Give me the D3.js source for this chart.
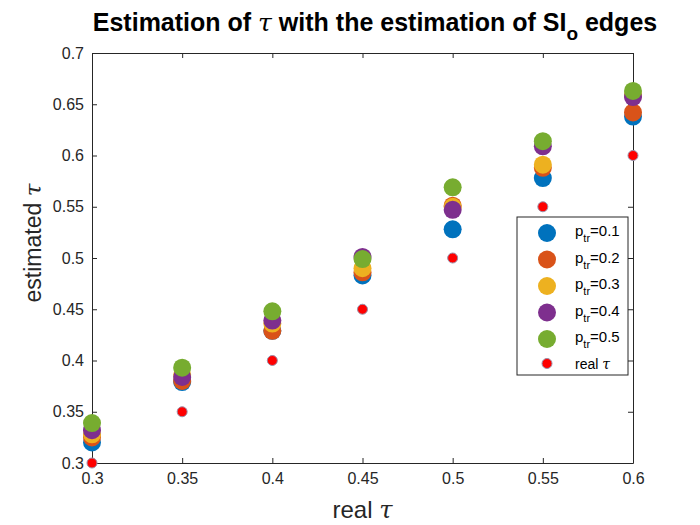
<!DOCTYPE html>
<html>
<head>
<meta charset="utf-8">
<script src="https://cdn.jsdelivr.net/npm/d3@7"></script>
<style>
  body { margin: 0; background: #fff; }
  svg { font-family: "Liberation Sans", Arial, sans-serif; }
</style>
</head>
<body>
<div id="chart"></div>
<script>
'use strict'

// real tau on the x axis
const realTau = [0.3, 0.35, 0.4, 0.45, 0.5, 0.55, 0.6]

// estimated tau, one array per p_tr
const est01 = [0.320, 0.379, 0.429, 0.483, 0.528, 0.578, 0.638]
const est02 = [0.325, 0.380, 0.429, 0.486, 0.551, 0.588, 0.642]
const est03 = [0.328, 0.386, 0.436, 0.490, 0.550, 0.591, 0.659]
const est04 = [0.332, 0.384, 0.439, 0.501, 0.547, 0.609, 0.657]
const est05 = [0.339, 0.393, 0.448, 0.499, 0.569, 0.614, 0.663]

const seriesNames = ['0.1', '0.2', '0.3', '0.4', '0.5']
const seriesValues = [est01, est02, est03, est04, est05]
const seriesColors = ['#0072BD', '#D95319', '#EDB120', '#7E2F8E', '#77AC30']

const xTicks = [0.3, 0.35, 0.4, 0.45, 0.5, 0.55, 0.6]
const yTicks = [0.3, 0.35, 0.4, 0.45, 0.5, 0.55, 0.6, 0.65, 0.7]

////////////////////////////////////
//////////// svg setup /////////////
////////////////////////////////////

const svgWidth = 700
const svgHeight = 525

const margin = { left: 92, right: 67, top: 53, bottom: 62 }
const width = svgWidth - margin.left - margin.right
const height = svgHeight - margin.top - margin.bottom

const svg = d3.select('#chart').append('svg')
    .attr('width', svgWidth)
    .attr('height', svgHeight)

const g = svg.append('g')
    .attr('transform', `translate(${margin.left},${margin.top})`)

////////////////////////////////////
//////////////scales////////////////
////////////////////////////////////

const xScale = d3.scaleLinear().domain([0.3, 0.6]).range([0, width])
const yScale = d3.scaleLinear().domain([0.3, 0.7]).range([height, 0])

const fmt = d => d3.format('')(+d.toFixed(2))
const tickLen = 5

// bottom + top axes (ticks pointing in)
g.append('g')
    .attr('transform', `translate(0,${height})`)
    .call(d3.axisBottom(xScale).tickValues(xTicks).tickFormat(fmt)
        .tickSizeInner(-tickLen).tickSizeOuter(0).tickPadding(10))
g.append('g')
    .call(d3.axisTop(xScale).tickValues(xTicks).tickFormat('')
        .tickSizeInner(-tickLen).tickSizeOuter(0))

// left + right axes
g.append('g')
    .call(d3.axisLeft(yScale).tickValues(yTicks).tickFormat(fmt)
        .tickSizeInner(-tickLen).tickSizeOuter(0).tickPadding(8))
g.append('g')
    .attr('transform', `translate(${width},0)`)
    .call(d3.axisRight(yScale).tickValues(yTicks).tickFormat('')
        .tickSizeInner(-tickLen).tickSizeOuter(0))

g.selectAll('.domain').attr('stroke', '#262626').attr('stroke-width', 1)
g.selectAll('.tick line').attr('stroke', '#262626')
g.selectAll('.tick text')
    .attr('fill', '#262626')
    .style('font-size', '16px')
    .style('font-family', '"Liberation Sans", Arial, sans-serif')

////////////////////////////////////
//////////////points////////////////
////////////////////////////////////

seriesValues.forEach((vals, i) => {
    g.append('g').selectAll('circle')
        .data(vals)
        .enter()
        .append('circle')
        .attr('cx', (d, j) => xScale(realTau[j]))
        .attr('cy', d => yScale(d))
        .attr('r', 9)
        .attr('fill', seriesColors[i])
})

g.append('g').selectAll('circle')
    .data(realTau)
    .enter()
    .append('circle')
    .attr('cx', d => xScale(d))
    .attr('cy', d => yScale(d))
    .attr('r', 5)
    .attr('fill', '#FF0000')
    .attr('stroke', '#9a8fa8')
    .attr('stroke-width', 1)

////////////////////////////////////
//////////////legend////////////////
////////////////////////////////////

const legend = svg.append('g').attr('transform', 'translate(517,217)')

legend.append('rect')
    .attr('width', 111)
    .attr('height', 158)
    .attr('fill', '#fff')
    .attr('stroke', '#262626')
    .attr('stroke-width', 1)

seriesNames.forEach((name, i) => {
    const ly = 16 + i * 26.5
    legend.append('circle')
        .attr('cx', 30).attr('cy', ly).attr('r', 9)
        .attr('fill', seriesColors[i])
    const t = legend.append('text')
        .attr('x', 58).attr('y', ly + 3)
        .attr('fill', '#000')
        .style('font-size', '15px')
    t.append('tspan').text('p')
    t.append('tspan').attr('dy', 6).style('font-size', '11px').text('tr')
    t.append('tspan').attr('dy', -6).text('=' + name)
})

legend.append('circle')
    .attr('cx', 30).attr('cy', 16 + 5 * 26.5 - 2).attr('r', 5)
    .attr('fill', '#FF0000')
    .attr('stroke', '#9a8fa8')
const rt = legend.append('text')
    .attr('x', 58).attr('y', 16 + 5 * 26.5 + 3)
    .style('font-size', '14px')
rt.append('tspan').text('real ')
rt.append('tspan').style('font-family', '"DejaVu Serif", serif').style('font-style', 'italic').text('τ')

////////////////////////////////////
//////////////labels////////////////
////////////////////////////////////

const title = svg.append('text')
    .attr('x', 375)
    .attr('y', 31)
    .attr('text-anchor', 'middle')
    .style('font-size', '25px')
    .style('font-weight', 'bold')
title.append('tspan').text('Estimation of ')
title.append('tspan').style('font-family', '"DejaVu Serif", serif').style('font-style', 'italic')
    .style('font-weight', 'normal').text('τ')
title.append('tspan').text(' with the estimation of SI')
title.append('tspan').attr('dy', 9).style('font-size', '19px').text('o')
title.append('tspan').attr('dy', -9).text(' edges')

const xl = svg.append('text')
    .attr('x', margin.left + width / 2)
    .attr('y', 518)
    .attr('text-anchor', 'middle')
    .attr('fill', '#262626')
    .style('font-size', '24px')
xl.append('tspan').text('real ')
xl.append('tspan').style('font-family', '"DejaVu Serif", serif').style('font-style', 'italic').text('τ')

const yl = svg.append('text')
    .attr('transform', 'translate(41,243) rotate(-90)')
    .attr('text-anchor', 'middle')
    .attr('fill', '#262626')
    .style('font-size', '23px')
yl.append('tspan').text('estimated ')
yl.append('tspan').style('font-family', '"DejaVu Serif", serif').style('font-style', 'italic').text('τ')
</script>
</body>
</html>
